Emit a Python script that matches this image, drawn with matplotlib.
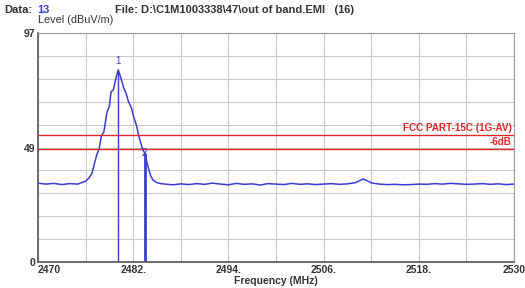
import matplotlib
matplotlib.use("Agg")
import matplotlib.pyplot as plt
from matplotlib.ticker import MultipleLocator, FixedLocator

plt.rcParams["font.family"] = ["Liberation Sans", "DejaVu Sans"]

# ==============================
# DATA
# ==============================

peak_freq = [2470, 2471, 2472, 2473, 2474, 2475, 2475.5, 2476, 2476.4, 2476.8,
             2477.1, 2477.4, 2477.7, 2478.0, 2478.3, 2478.7, 2479.0, 2479.2,
             2479.5, 2479.8, 2480.1, 2480.4, 2480.8, 2481.1, 2481.4, 2481.8,
             2482.1, 2482.4, 2482.7, 2482.9, 2483.2, 2483.5, 2483.7, 2483.9,
             2484.2, 2484.5, 2485.0, 2485.5]
peak_level = [33.4, 33.0, 33.3, 32.8, 33.2, 33.0, 33.6, 34.2, 35.5, 37.5,
              41.5, 45.3, 48.0, 53.5, 55.0, 63.5, 66.0, 72.0,
              73.0, 77.5, 81.4, 78.5, 73.8, 71.5, 68.0, 65.0,
              61.0, 58.0, 53.5, 51.0, 47.5, 46.0, 42.5, 40.0,
              36.5, 34.7, 33.6, 33.2]

base_freq = list(range(2486, 2531))
base_level = [33.0, 32.7, 33.1, 32.8, 33.2, 32.9, 33.4, 33.0, 32.7, 33.3,
              32.9, 33.1, 32.6, 33.2, 33.0, 32.8, 33.3, 32.9, 33.1, 32.8,
              33.0, 33.2, 32.9, 33.1, 33.6, 35.2, 33.5, 33.0,
              32.8, 32.9, 32.7, 32.8, 33.0, 32.9, 33.2, 33.0, 33.3, 33.1,
              32.9, 33.0, 33.2, 32.9, 33.1, 32.8, 33.0]

freq = peak_freq + base_freq
level = peak_level + base_level

marker_freq = [2480.1, 2483.5]
marker_level = [81.4, 46.0]
marker_names = ["1", "2"]

limit_level = 54
limit_6db = 48

x_ticks = [2470, 2482, 2494, 2506, 2518, 2530]
x_labels = ["2470", "2482.", "2494.", "2506.", "2518.", "2530"]
x_grid = [2476, 2488, 2500, 2512, 2524]
y_ticks = [0, 48.5, 97]
y_labels = ["0", "49", "97"]

# ==============================
# Plot
# ==============================

BLUE = "#3c3cd2"
RED = "#e02828"
TXT = "#333333"

fig = plt.figure(figsize=(5.25, 2.88), dpi=100)
ax = fig.add_axes([38 / 525, 26 / 288, 476 / 525, 229 / 288])

ax.plot(freq, level, color=BLUE, lw=1.1)

ax.axhline(limit_level, color=RED, lw=1.0)
ax.axhline(limit_6db, color=RED, lw=1.0)

for f, l, w in zip(marker_freq, marker_level, [1.0, 2.0]):
    ax.vlines(f, 0, l, color=BLUE, lw=w)
ax.text(marker_freq[0], marker_level[0] + 1.5, marker_names[0], color=BLUE,
        fontsize=7, ha="center", va="bottom")
ax.text(marker_freq[1] - 0.1, marker_level[1], marker_names[1], color=BLUE,
        fontsize=7, ha="center", va="center")

ax.text(2529.7, limit_level + 0.6, "FCC PART-15C (1G-AV)", color=RED,
        fontsize=7.1, fontweight="bold", ha="right", va="bottom")
ax.text(2529.7, limit_6db + 0.6, "-6dB", color=RED,
        fontsize=7.1, fontweight="bold", ha="right", va="bottom")

ax.set_xlim(2470, 2530)
ax.set_ylim(0, 97)
ax.xaxis.set_major_locator(FixedLocator(x_ticks))
ax.set_xticklabels(x_labels)
ax.xaxis.set_minor_locator(FixedLocator(x_grid))
ax.yaxis.set_major_locator(FixedLocator(y_ticks))
ax.set_yticklabels(y_labels)
ax.yaxis.set_minor_locator(MultipleLocator(9.7))
ax.grid(True, which="both", color="#c8c8c8", lw=0.8)
ax.set_axisbelow(True)
ax.tick_params(which="both", length=0, labelsize=7.5, colors=TXT, pad=2)
for lab in ax.get_xticklabels() + ax.get_yticklabels():
    lab.set_fontweight("bold")
ax.get_xticklabels()[0].set_horizontalalignment("left")
for s in ax.spines.values():
    s.set_color("#999999")
    s.set_linewidth(0.8)
ax.spines["left"].set_color("#555555")
ax.spines["bottom"].set_color("#555555")
ax.spines["left"].set_linewidth(1.2)
ax.spines["bottom"].set_linewidth(1.2)

ax.set_xlabel("Frequency (MHz)", fontsize=7.5, fontweight="bold", color=TXT,
              labelpad=1)

fig.text(4 / 525, 1 - 10 / 288, "Data:", fontsize=8, fontweight="bold",
         color=TXT, va="center")
fig.text(37 / 525, 1 - 10 / 288, "13", fontsize=8, fontweight="bold",
         color=BLUE, va="center")
fig.text(115 / 525, 1 - 10 / 288, "File: D:\\C1M1003338\\47\\out of band.EMI   (16)",
         fontsize=8, fontweight="bold", color=TXT, va="center")
fig.text(38 / 525, 1 - 20 / 288, "Level (dBuV/m)", fontsize=7.8,
         color=TXT, va="center")

fig.savefig("out.png", dpi=100)
